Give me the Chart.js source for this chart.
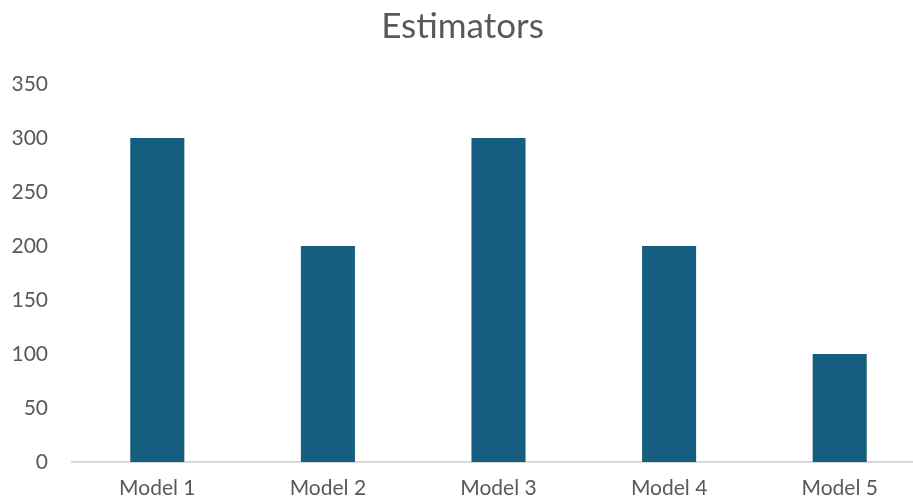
<!DOCTYPE html>
<html>
<head>
<meta charset="utf-8">
<script src="https://cdn.jsdelivr.net/npm/chart.js@4"></script>
<style>
  html, body { margin: 0; padding: 0; overflow: hidden; background: #fff; }
  #wrap { width: 925px; height: 504px; }
</style>
</head>
<body>
<div id="wrap"><canvas id="myChart"></canvas></div>
<script>
const categories = ["Model 1", "Model 2", "Model 3", "Model 4", "Model 5"];
const estimators = [300, 200, 300, 200, 100];
const yTicks = [0, 50, 100, 150, 200, 250, 300, 350];

const textColor = "#595959";
const fontFamily = "Lato, 'Open Sans', sans-serif";

const ctx = document.getElementById("myChart").getContext("2d");
const myChart = new Chart(ctx, {
  type: "bar",
  data: {
    labels: categories,
    datasets: [
      {
        label: "Estimators",
        data: estimators,
        backgroundColor: "#165e80",
        borderWidth: 0,
        categoryPercentage: 1,
        barPercentage: 0.317,
      },
    ],
  },
  options: {
    responsive: true,
    maintainAspectRatio: false,
    animation: false,
    layout: { padding: 0 },
    plugins: {
      legend: { display: false },
      tooltip: { enabled: false },
      title: {
        display: true,
        text: "Estimators",
        color: textColor,
        font: { family: fontFamily, size: 35, weight: "normal" },
        padding: { top: 6, bottom: 36 },
      },
    },
    scales: {
      x: {
        grid: { display: false, drawTicks: false },
        border: { display: true, color: "#d9d9d9", width: 2 },
        ticks: {
          color: textColor,
          font: { family: fontFamily, size: 21 },
          padding: 14,
        },
        afterFit: (scale) => { scale.height = 42; },
      },
      y: {
        min: 0,
        max: 350,
        grid: { display: false, drawTicks: false },
        border: { display: false },
        afterBuildTicks: (scale) => {
          scale.ticks = yTicks.map((v) => ({ value: v }));
        },
        ticks: {
          color: textColor,
          font: { family: fontFamily, size: 21 },
          padding: 24,
        },
        afterFit: (scale) => { scale.width = 72; },
      },
    },
  },
});
</script>
</body>
</html>
